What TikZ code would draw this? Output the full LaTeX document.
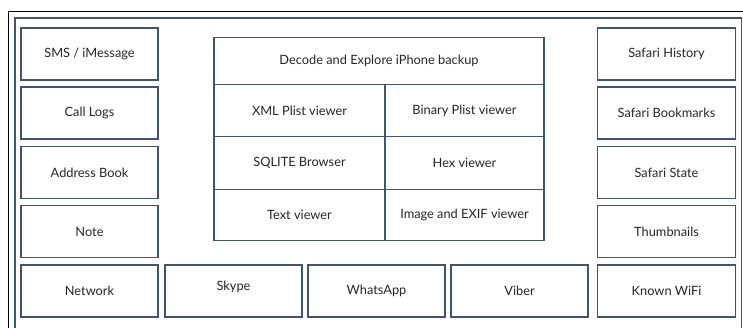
\documentclass[tikz,border=0pt]{standalone}
\usepackage{fontspec}
\setmainfont{Lato}
\definecolor{boxline}{HTML}{44536F}
\definecolor{txt}{HTML}{262626}
\begin{document}
\begin{tikzpicture}[x=1pt,y=-1pt,
  cell/.style={draw=boxline,line width=1.2pt,fill=white,text=txt,font=\fontsize{12.8}{15}\selectfont,align=center,inner sep=0pt},
  lbl/.style={text=txt,font=\fontsize{12.8}{15}\selectfont,inner sep=0pt}]
\useasboundingbox (0,0) rectangle (743,327);
\begin{scope}
\clip (0,0) rectangle (743,327);
\draw[black,line width=0.8pt] (8,11) rectangle (760,340);
\draw[boxline,line width=1.2pt] (15,18) rectangle (741.5,340);
\end{scope}
% left column
\node[cell,minimum width=137pt,minimum height=52pt] (sms) at (89.5,54) {SMS / iMessage};
\node[cell,minimum width=137pt,minimum height=52pt] (call) at (89.5,113) {Call Logs};
\node[cell,minimum width=137pt,minimum height=52pt] (addr) at (89.5,172.5) {Address Book};
\node[cell,minimum width=137pt,minimum height=52pt] (note) at (89.5,231.5) {Note};
\node[cell,minimum width=137pt,minimum height=52pt] (net) at (89.5,291) {Network};
% bottom row
\node[cell,minimum width=137pt,minimum height=52pt] (skype) at (233.5,291) {};
\node[lbl] (skypet) at (233.5,287) {Skype};
\node[cell,minimum width=137pt,minimum height=52pt] (whats) at (376.5,291) {WhatsApp};
\node[cell,minimum width=137pt,minimum height=52pt] (viber) at (519.5,291) {Viber};
% right column
\node[cell,minimum width=138pt,minimum height=52pt] (shist) at (666.5,54) {Safari History};
\node[cell,minimum width=138pt,minimum height=52pt] (sbook) at (666.5,113) {Safari Bookmarks};
\node[cell,minimum width=138pt,minimum height=52pt] (sstate) at (666.5,172.5) {Safari State};
\node[cell,minimum width=138pt,minimum height=52pt] (thumb) at (666.5,231.5) {Thumbnails};
\node[cell,minimum width=138pt,minimum height=52pt] (wifi) at (666.5,291) {Known WiFi};
% center table
\node[cell,minimum width=330pt,minimum height=47pt] (head) at (379,60.8) {Decode and Explore iPhone backup};
\node[cell,minimum width=171pt,minimum height=52.4pt] (xml) at (299.5,110.5) {XML Plist viewer};
\node[cell,minimum width=159pt,minimum height=52.4pt] (bin) at (464.5,110.5) {Binary Plist viewer};
\node[cell,minimum width=171pt,minimum height=52.6pt] (sql) at (299.5,163) {SQLITE Browser};
\node[cell,minimum width=159pt,minimum height=52.6pt] (hex) at (464.5,163) {Hex viewer};
\node[cell,minimum width=171pt,minimum height=51.4pt] (text) at (299.5,215) {Text viewer};
\node[cell,minimum width=159pt,minimum height=51.4pt] (img) at (464.5,215) {Image and EXIF viewer};
\end{tikzpicture}
\end{document}
